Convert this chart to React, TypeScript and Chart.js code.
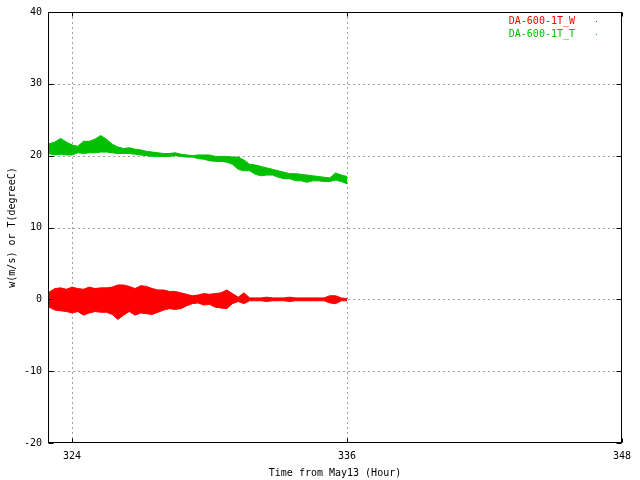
import React, { useEffect, useRef } from "react";
import { Chart, registerables } from "chart.js";

Chart.register(...registerables);

// Time (hours from May13) sample positions
const hours = [
  322.95, 323.25, 323.5, 323.75, 324, 324.25, 324.5, 324.75, 325, 325.25, 325.5, 325.75,
  326, 326.25, 326.5, 326.75, 327, 327.25, 327.5, 327.75, 328, 328.25, 328.5, 328.75,
  329, 329.25, 329.5, 329.75, 330, 330.25, 330.5, 330.75, 331, 331.25, 331.5, 331.75,
  332, 332.25, 332.5, 332.75, 333, 333.25, 333.5, 333.75, 334, 334.25, 334.5, 334.75,
  335, 335.25, 335.5, 335.75, 336,
];

// DA-600-1T_W (w, m/s): upper / lower envelope
const wHigh = [
  0.9, 1.5, 1.6, 1.4, 1.7, 1.5, 1.4, 1.7, 1.5, 1.6, 1.6, 1.7,
  2.0, 2.0, 1.8, 1.5, 1.9, 1.8, 1.5, 1.3, 1.3, 1.1, 1.1, 0.9,
  0.7, 0.5, 0.6, 0.8, 0.7, 0.8, 0.9, 1.3, 0.8, 0.3, 0.9, 0.2,
  0.2, 0.2, 0.3, 0.2, 0.2, 0.2, 0.3, 0.2, 0.2, 0.2, 0.2, 0.2,
  0.2, 0.5, 0.5, 0.2, 0.1,
];
const wLow = [
  -1.0, -1.5, -1.6, -1.7, -1.9, -1.7, -2.2, -1.9, -1.7, -1.8, -1.8, -2.1,
  -2.8, -2.2, -1.7, -2.2, -1.9, -2.0, -2.1, -1.8, -1.5, -1.3, -1.4, -1.3,
  -0.9, -0.6, -0.5, -0.8, -0.7, -1.1, -1.2, -1.3, -0.6, -0.3, -0.6, -0.2,
  -0.2, -0.2, -0.3, -0.2, -0.2, -0.2, -0.3, -0.2, -0.2, -0.2, -0.2, -0.2,
  -0.2, -0.5, -0.6, -0.2, -0.2,
];

// DA-600-1T_T (T, degreeC): upper / lower envelope
const tHigh = [
  21.6, 21.9, 22.4, 21.9, 21.5, 21.3, 22.0, 22.0, 22.3, 22.8, 22.3, 21.6,
  21.2, 21.0, 21.1, 20.9, 20.8, 20.6, 20.5, 20.4, 20.3, 20.3, 20.4, 20.2,
  20.1, 20.0, 20.1, 20.1, 20.1, 19.9, 19.9, 19.9, 19.8, 19.8, 19.4, 18.8,
  18.7, 18.5, 18.3, 18.1, 17.9, 17.7, 17.5, 17.5, 17.4, 17.3, 17.2, 17.1,
  17.0, 16.9, 17.6, 17.3, 17.1,
];
const tLow = [
  20.3, 20.1, 20.2, 20.1, 20.1, 20.4, 20.3, 20.4, 20.4, 20.5, 20.5, 20.4,
  20.3, 20.3, 20.3, 20.2, 20.1, 20.0, 19.9, 19.9, 19.9, 19.9, 20.0, 19.9,
  19.8, 19.8, 19.6, 19.5, 19.3, 19.2, 19.2, 19.1, 18.8, 18.1, 17.9, 17.9,
  17.4, 17.2, 17.3, 17.3, 17.0, 16.8, 16.8, 16.5, 16.5, 16.3, 16.5, 16.5,
  16.4, 16.4, 16.6, 16.4, 16.1,
];

const seriesNames = ["DA-600-1T_W", "DA-600-1T_T"];
const seriesColors = ["#ff0000", "#00c000"];

const xTicks = [324, 336, 348];
const yTicks = [-20, -10, 0, 10, 20, 30, 40];
const xMin = 322.95;
const xMax = 348;
const yMin = -20;
const yMax = 40;

const xTitle = "Time from May13 (Hour)";
const yTitle = "w(m/s) or T(degreeC)";

const FONT = "DejaVu Sans Mono";

const toPts = (ys: number[]) => hours.map((h, i) => ({ x: h, y: ys[i] }));

const framePlugin = {
  id: "gnuframe",
  beforeDatasetsDraw(chart: any) {
    const { ctx, chartArea: a, scales } = chart;
    ctx.save();
    ctx.strokeStyle = "#a0a0a0";
    ctx.lineWidth = 1;
    ctx.setLineDash([2, 3]);
    xTicks.forEach((v) => {
      const px = Math.round(scales.x.getPixelForValue(v)) + 0.5;
      if (px <= a.left + 1 || px >= a.right - 1) return;
      ctx.beginPath();
      ctx.moveTo(px, a.top);
      ctx.lineTo(px, a.bottom);
      ctx.stroke();
    });
    yTicks.forEach((v) => {
      const py = Math.round(scales.y.getPixelForValue(v)) + 0.5;
      if (py <= a.top + 1 || py >= a.bottom - 1) return;
      ctx.beginPath();
      ctx.moveTo(a.left, py);
      ctx.lineTo(a.right, py);
      ctx.stroke();
    });
    ctx.restore();
  },
  afterDatasetsDraw(chart: any) {
    const { ctx, chartArea: a, scales } = chart;
    ctx.save();
    ctx.setLineDash([]);
    ctx.strokeStyle = "#000";
    ctx.lineWidth = 1;
    const L = Math.round(a.left) + 0.5;
    const R = Math.round(a.right) - 0.5;
    const T = Math.round(a.top) + 0.5;
    const B = Math.round(a.bottom) - 0.5;
    ctx.beginPath();
    xTicks.forEach((v) => {
      const px = Math.round(scales.x.getPixelForValue(v)) + 0.5;
      ctx.moveTo(px, B);
      ctx.lineTo(px, B - 4);
      ctx.moveTo(px, T);
      ctx.lineTo(px, T + 4);
    });
    yTicks.forEach((v) => {
      const py = Math.round(scales.y.getPixelForValue(v)) + 0.5;
      ctx.moveTo(L, py);
      ctx.lineTo(L + 5, py);
      ctx.moveTo(R, py);
      ctx.lineTo(R - 5, py);
    });
    ctx.stroke();
    ctx.strokeRect(L, T, R - L, B - T);

    // axis titles
    ctx.fillStyle = "#000";
    ctx.font = `10px "${FONT}"`;
    ctx.textAlign = "center";
    ctx.textBaseline = "middle";
    ctx.fillText(xTitle, (a.left + a.right) / 2, 473);
    ctx.save();
    ctx.translate(12, (a.top + a.bottom) / 2);
    ctx.rotate(-Math.PI / 2);
    ctx.fillText(yTitle, 0, 0);
    ctx.restore();

    // key
    ctx.textAlign = "right";
    seriesNames.forEach((name, i) => {
      const y = 21 + i * 13;
      ctx.fillStyle = seriesColors[i];
      ctx.fillText(name, 575, y);
      ctx.fillRect(596, Math.round(y), 1, 1);
    });
    ctx.restore();
  },
};

export default function App() {
  const ref = useRef<HTMLCanvasElement>(null);
  useEffect(() => {
    document.body.style.margin = "0";
    const band = (ys: number[], color: string, fill: any) => ({
      data: toPts(ys),
      borderColor: color,
      backgroundColor: color,
      borderWidth: 1,
      pointRadius: 0,
      tension: 0,
      fill,
    });
    const chart = new Chart(ref.current!, {
      type: "line",
      data: {
        datasets: [
          { ...band(wHigh, seriesColors[0], "+1"), label: seriesNames[0] },
          { ...band(wLow, seriesColors[0], false), label: seriesNames[0] + " low" },
          { ...band(tHigh, seriesColors[1], "+1"), label: seriesNames[1] },
          { ...band(tLow, seriesColors[1], false), label: seriesNames[1] + " low" },
        ],
      },
      options: {
        animation: false,
        responsive: false,
        devicePixelRatio: 1,
        layout: { padding: { left: 0, top: 11, right: 18, bottom: 0 } },
        plugins: { legend: { display: false }, tooltip: { enabled: false } },
        scales: {
          x: {
            type: "linear",
            min: xMin,
            max: xMax,
            afterBuildTicks: (s: any) => {
              s.ticks = xTicks.map((v) => ({ value: v }));
            },
            afterFit: (s: any) => {
              s.height = 37;
            },
            grid: { display: false, drawTicks: false },
            border: { display: false },
            ticks: {
              color: "#000",
              font: { family: FONT, size: 10 },
              padding: 7,
              maxRotation: 0,
              autoSkip: false,
              callback: (v: any) => String(v),
            },
          },
          y: {
            type: "linear",
            min: yMin,
            max: yMax,
            afterBuildTicks: (s: any) => {
              s.ticks = yTicks.map((v) => ({ value: v }));
            },
            afterFit: (s: any) => {
              s.width = 48;
            },
            grid: { display: false, drawTicks: false },
            border: { display: false },
            ticks: {
              color: "#000",
              font: { family: FONT, size: 10 },
              padding: 6,
              callback: (v: any) => String(v),
            },
          },
        },
      },
      plugins: [framePlugin],
    } as any);
    return () => chart.destroy();
  }, []);
  return (
    <div style={{ position: "absolute", left: 0, top: 0, width: 640, height: 480, background: "#fff" }}>
      <canvas ref={ref} width={640} height={480} style={{ width: 640, height: 480, display: "block" }} />
    </div>
  );
}
